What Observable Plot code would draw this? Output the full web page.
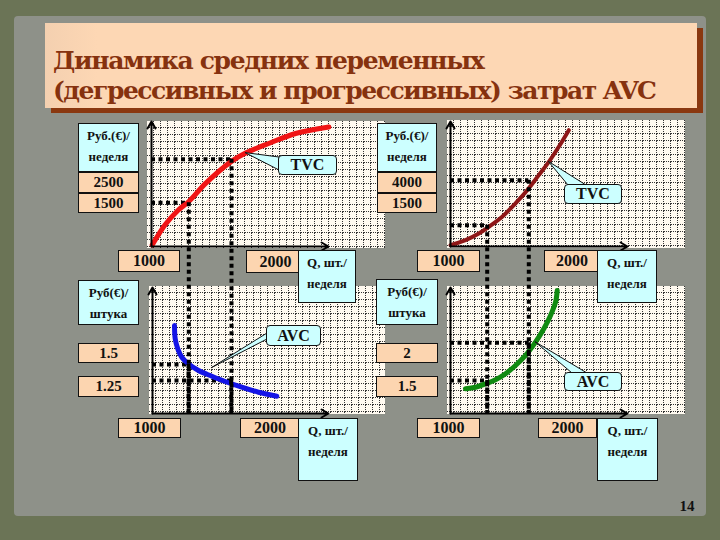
<!DOCTYPE html>
<html><head><meta charset="utf-8">
<script src="https://cdn.jsdelivr.net/npm/d3@7"></script>
<script src="https://cdn.jsdelivr.net/npm/@observablehq/plot@0.6"></script>
<style>
html,body{margin:0;padding:0;background:#6b7456;}
#slide{position:relative;width:720px;height:540px;overflow:hidden;background:#6b7456;font-family:"Liberation Serif","Times New Roman",serif;}
.paper{position:absolute;left:14px;top:16px;width:692px;height:500px;background:#8e9189;border-radius:4px;}
.grid{position:absolute;background-color:#fffaf0;background-size:7px 7px;
 background-image:url("data:image/svg+xml,%3Csvg xmlns='http://www.w3.org/2000/svg' width='7' height='7'%3E%3Cpath d='M0 6.5H7M6.5 0V7' stroke='%23333' stroke-width='1' stroke-dasharray='1 1'/%3E%3C/svg%3E");}
.box{position:absolute;box-sizing:border-box;border:1px solid #111;font-weight:bold;color:#111;text-align:center;}
.cyan{background:#ccffff;}
.peach{background:#fcd5b0;}
.callout{position:absolute;box-sizing:border-box;border:1px solid #111;border-radius:4px;background:#ccffff;font-weight:bold;font-size:16px;color:#111;text-align:center;}
.ttl{font-family:"DejaVu Serif";font-weight:bold;}
</style></head>
<body>
<div id="slide"><div class="paper"></div></div>
<script>
// ---------- data ----------
const guideQ = [1000, 2000];
const xTickLabels = ["1000", "2000"];
const xUnitLines = ["Q, шт./", "неделя"];
const weekUnitLines = ["Руб.(€)/", "неделя"];
const pieceUnitLines = ["Руб(€)/", "штука"];

// degressive TVC (top left)
const tvcDegQ = [143, 450, 750, 1000, 1400, 2000, 2330, 2870, 3500, 4280];
const tvcDegV = [530, 1000, 1330, 1530, 1950, 2450, 2640, 2860, 3090, 3240];
const tvcDegGuideV = [1500, 2500];
const tvcDegTickLabels = ["2500", "1500"];

// progressive TVC (top right)
const tvcProQ = [118, 478, 798, 1038, 1361, 1680, 1962, 2240, 2481, 2721, 2962];
const tvcProV = [390, 670, 1040, 1410, 1970, 2710, 3440, 4280, 5020, 5860, 6780];
const tvcProGuideV = [1500, 4000];
const tvcProTickLabels = ["4000", "1500"];

// degressive AVC (bottom left)
const avcDegQ = [672, 689, 749, 843, 1000, 1234, 1546, 1859, 2248, 2639, 3068];
const avcDegV = [2.11, 1.90, 1.745, 1.614, 1.51, 1.406, 1.317, 1.234, 1.145, 1.067, 1.005];
const avcDegGuideV = [1.5, 1.25];
const avcDegTickLabels = ["1.5", "1.25"];

// progressive AVC (bottom right)
const avcProQ = [478, 719, 959, 1200, 1440, 1680, 1921, 2161, 2361, 2522, 2643, 2683];
const avcProV = [1.39, 1.41, 1.456, 1.509, 1.589, 1.699, 1.832, 2.008, 2.186, 2.362, 2.538, 2.694];
const avcProGuideV = [1.5, 2];
const avcProTickLabels = ["2", "1.5"];

const titleLines = ["Динамика средних переменных", "(дегрессивных и прогрессивных) затрат AVC"];
const pageNumber = "14";

// ---------- layout (pixels) ----------
const layout = {
  tl: {ox:151, oy:246, xTip:328, yTip:121, qPx:[188.3,231], vPx:[202.3,158.7], vEnd:413,
       grid:[147,121,238,127], unit:[78,123,61,49], ticks:[[78,172,61,21],[78,193,61,20]],
       xBoxes:[[118,250,62,22],[246,250,59,23]], qBox:[298,250,58,53],
       call:{box:[278,155,59,20], base:[[279,157],[279,170]], idx:6, dy:0, text:"TVC"}},
  tr: {ox:450, oy:246, xTip:627, yTip:121, qPx:[486.7,528.3], vPx:[224.7,179.7], vEnd:413,
       grid:[447,120,238,128], unit:[377,123,60,49], ticks:[[377,172,60,21],[377,193,60,20]],
       xBoxes:[[417,250,63,22],[544,250,56,22]], qBox:[597,250,60,53],
       call:{box:[564,184,58,20], base:[[568,185],[586,185]], idx:8, dy:0, text:"TVC"}},
  bl: {ox:152, oy:413, xTip:328, yTip:287, qPx:[188,230.7], vPx:[364,380], vEnd:null,
       grid:[149,286,236,128], unit:[78,280,61,45], ticks:[[78,343,61,20],[78,376,61,21]],
       xBoxes:[[118,418,63,20],[240,418,60,20]], qBox:[298,418,60,63],
       call:{box:[266,325,55,21], base:[[267,333],[267,339]], idx:6, dy:-8, text:"AVC"}},
  br: {ox:450, oy:413, xTip:627, yTip:287, qPx:[486.7,528.3], vPx:[380,342.3], vEnd:null,
       grid:[447,286,238,128], unit:[376,279,62,46], ticks:[[376,343,62,20],[376,376,62,21]],
       xBoxes:[[417,418,63,20],[538,418,59,20]], qBox:[597,418,61,63],
       call:{box:[564,372,58,19], base:[[572,373],[587,373]], idx:7, dy:0, text:"AVC"}}
};
const titleBox = [45, 23, 652, 85];
const titleText = {x: 8, baselines: [46, 76], widths: [432, 604], size: 25};

const slide = document.getElementById("slide");
const el = (tag, cls, r, css) => {
  const d = document.createElement(tag);
  if (cls) d.className = cls;
  if (r) Object.assign(d.style, {left:r[0]+"px", top:r[1]+"px", width:r[2]+"px", height:r[3]+"px"});
  if (css) Object.assign(d.style, css);
  slide.appendChild(d);
  return d;
};
const SVGNS = "http://www.w3.org/2000/svg";

// title
const tb = el("div", null, titleBox, {position:"absolute", background:"linear-gradient(90deg,#f4d0b0,#fdd7b4 8%,#fdd7b4)", boxShadow:"6px 5px 0 #8a3810"});
const tsvg = document.createElementNS(SVGNS, "svg");
tsvg.setAttribute("width", titleBox[2]); tsvg.setAttribute("height", titleBox[3]);
tsvg.style.display = "block";
tb.appendChild(tsvg);
titleLines.forEach((s, i) => {
  const t = document.createElementNS(SVGNS, "text");
  t.setAttribute("class", "ttl");
  t.setAttribute("x", titleText.x); t.setAttribute("y", titleText.baselines[i]);
  t.setAttribute("font-size", titleText.size);
  t.setAttribute("fill", "#86320f");
  t.textContent = s;
  tsvg.appendChild(t);
  const w = t.getComputedTextLength();
  const ls = (titleText.widths[i] - w) / Math.max(1, s.length - 1);
  t.setAttribute("letter-spacing", ls.toFixed(2));
});

// grids
for (const k of ["tl","tr","bl","br"]) el("div", "grid", layout[k].grid);

// plots
function panelPlot(p, Q, V, color, sw, guideV, vEndPx) {
  const xs = d3.scaleLinear(guideQ, p.qPx);
  const ys = d3.scaleLinear(guideV, p.vPx);
  const curve = Q.map((q, i) => ({q, v: V[i]}));
  const guides = guideQ.map((q, i) => ({q, v: guideV[i], q0: xs.invert(p.ox),
      vEnd: ys.invert(vEndPx == null ? p.oy : vEndPx)}));
  const axes = [
    {x1: xs.invert(p.ox), y1: ys.invert(p.oy), x2: xs.invert(p.xTip), y2: ys.invert(p.oy)},
    {x1: xs.invert(p.ox), y1: ys.invert(p.oy), x2: xs.invert(p.ox), y2: ys.invert(p.yTip)}
  ];
  const dash = {stroke: "#000", strokeWidth: 4, strokeDasharray: "4,3.5"};
  const marks = [
    Plot.ruleY(guides, {y: "v", x1: "q0", x2: "q", ...dash}),
    Plot.line(curve, {x: "q", y: "v", stroke: color, strokeWidth: sw, curve: "catmull-rom", strokeLinecap: "round"}),
    Plot.ruleX(guides, {x: "q", y1: "v", y2: "vEnd", ...dash}),
    Plot.arrow(axes, {x1: "x1", y1: "y1", x2: "x2", y2: "y2", stroke: "#000", strokeWidth: 2, headLength: 6})
  ];
  const plot = Plot.plot({
    width: 720, height: 540,
    x: {domain: guideQ, range: p.qPx, axis: null},
    y: {domain: guideV, range: p.vPx, axis: null},
    style: {background: "transparent", position: "absolute", left: "0px", top: "0px", overflow: "visible", maxWidth: "none"},
    marks
  });
  slide.appendChild(plot);
  return {plot, xs, ys, curve};
}

const P = {};
P.bl = panelPlot(layout.bl, avcDegQ, avcDegV, "#1414e6", 5, avcDegGuideV, null);
P.br = panelPlot(layout.br, avcProQ, avcProV, "#108a10", 5, avcProGuideV, null);
P.tl = panelPlot(layout.tl, tvcDegQ, tvcDegV, "#f01414", 5, tvcDegGuideV, layout.tl.vEnd);
P.tr = panelPlot(layout.tr, tvcProQ, tvcProV, "#8e1616", 4, tvcProGuideV, layout.tr.vEnd);

// label boxes
function twoLine(r, lines, cls, fs) {
  const d = el("div", "box " + cls, r, {fontSize: fs + "px", lineHeight: "21px", paddingTop: "1px"});
  d.innerHTML = lines.map(s => `<div>${s}</div>`).join("");
}
function oneLine(r, text, fs) {
  const d = el("div", "box peach", r, {fontSize: fs + "px", lineHeight: (r[3] - 2) + "px"});
  d.textContent = text;
}
const tickSets = {tl: tvcDegTickLabels, tr: tvcProTickLabels, bl: avcDegTickLabels, br: avcProTickLabels};
for (const k of ["tl","tr","bl","br"]) {
  const p = layout[k];
  twoLine(p.unit, k[0] === "t" ? weekUnitLines : pieceUnitLines, "cyan", 13);
  p.ticks.forEach((r, i) => oneLine(r, tickSets[k][i], 15));
  p.xBoxes.forEach((r, i) => oneLine(r, xTickLabels[i], 16));
  twoLine(p.qBox, xUnitLines, "cyan", 13);
}

// callouts (tip anchored on the curve through the plot scales)
const ov = document.createElementNS(SVGNS, "svg");
ov.setAttribute("width", 720); ov.setAttribute("height", 540);
Object.assign(ov.style, {position: "absolute", left: "0px", top: "0px"});
slide.appendChild(ov);
for (const k of ["tl","tr","bl","br"]) {
  const c = layout[k].call, pp = P[k];
  const pt = pp.curve[c.idx];
  const tx = pp.xs(pt.q), ty = pp.ys(pt.v) + c.dy;
  const poly = document.createElementNS(SVGNS, "polygon");
  poly.setAttribute("points", `${tx},${ty} ${c.base[0].join(",")} ${c.base[1].join(",")}`);
  poly.setAttribute("fill", "#ccffff"); poly.setAttribute("stroke", "#111"); poly.setAttribute("stroke-width", "1");
  ov.appendChild(poly);
}
for (const k of ["tl","tr","bl","br"]) {
  const c = layout[k].call;
  const d = el("div", "callout", c.box, {lineHeight: (c.box[3] - 2) + "px"});
  d.textContent = c.text;
}

// page number
const pn = el("div", null, [672,498,30,20], {position: "absolute", fontWeight: "bold", fontSize: "15px", color: "#111", textAlign: "center"});
pn.textContent = pageNumber;
</script>
</body></html>
